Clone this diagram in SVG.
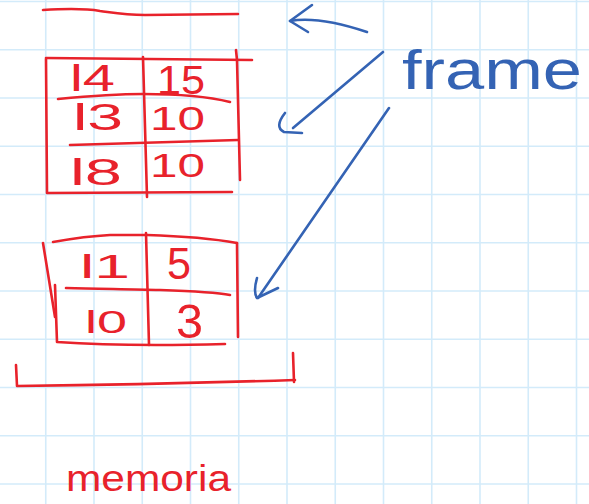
<svg xmlns="http://www.w3.org/2000/svg" width="589" height="504" viewBox="0 0 589 504">
<defs>
<style>
.grid line{stroke:#d3ebfa;stroke-width:1.6}
.r{fill:none;stroke:#e8222b;stroke-width:2.6;stroke-linecap:round;stroke-linejoin:round}
.b{fill:none;stroke:#3463b4;stroke-width:2.6;stroke-linecap:round;stroke-linejoin:round}
.rt{fill:#e8222b;font-family:"Liberation Sans",Arial,sans-serif}
.bt{fill:#3463b4;font-family:"Liberation Sans",Arial,sans-serif}
</style>
</defs>
<rect width="589" height="504" fill="#ffffff"/>
<g class="grid">
<line x1="-2.5" y1="0" x2="-2.5" y2="504"/>
<line x1="45.75" y1="0" x2="45.75" y2="504"/>
<line x1="94" y1="0" x2="94" y2="504"/>
<line x1="142.25" y1="0" x2="142.25" y2="504"/>
<line x1="190.5" y1="0" x2="190.5" y2="504"/>
<line x1="238.75" y1="0" x2="238.75" y2="504"/>
<line x1="287" y1="0" x2="287" y2="504"/>
<line x1="335.25" y1="0" x2="335.25" y2="504"/>
<line x1="383.5" y1="0" x2="383.5" y2="504"/>
<line x1="431.75" y1="0" x2="431.75" y2="504"/>
<line x1="480" y1="0" x2="480" y2="504"/>
<line x1="528.25" y1="0" x2="528.25" y2="504"/>
<line x1="576.5" y1="0" x2="576.5" y2="504"/>
<line x1="0" y1="1.5" x2="589" y2="1.5"/>
<line x1="0" y1="49.75" x2="589" y2="49.75"/>
<line x1="0" y1="98" x2="589" y2="98"/>
<line x1="0" y1="146.25" x2="589" y2="146.25"/>
<line x1="0" y1="194.5" x2="589" y2="194.5"/>
<line x1="0" y1="242.75" x2="589" y2="242.75"/>
<line x1="0" y1="291" x2="589" y2="291"/>
<line x1="0" y1="339.25" x2="589" y2="339.25"/>
<line x1="0" y1="387.5" x2="589" y2="387.5"/>
<line x1="0" y1="435.75" x2="589" y2="435.75"/>
<line x1="0" y1="484" x2="589" y2="484"/>
</g>
<g id="stack-top">
<path class="r" d="M43,10 C60,9 83,8 100,11 C115,13 125,15 145,15 L238,14"/>
</g>
<g id="table1">
<path class="r" d="M46,58 L252,60"/>
<path class="r" d="M46,59 L47,193 L232,192"/>
<path class="r" d="M236,50 L237,60 L240,180"/>
<path class="r" d="M143,57 L147,197"/>
<path class="r" d="M58,99 C90,96 115,94 143,94 C180,94 210,97 230,102"/>
<path class="r" d="M70,145 L238,140"/>
<text class="rt" x="70" y="91" font-size="36" textLength="45" lengthAdjust="spacingAndGlyphs">l4</text>
<text class="rt" x="157" y="94" font-size="40" textLength="48" lengthAdjust="spacingAndGlyphs">15</text>
<text class="rt" x="73" y="130" font-size="36" textLength="50" lengthAdjust="spacingAndGlyphs">l3</text>
<text class="rt" x="150" y="130" font-size="34" textLength="55" lengthAdjust="spacingAndGlyphs">10</text>
<text class="rt" x="70" y="185" font-size="36" textLength="52" lengthAdjust="spacingAndGlyphs">l8</text>
<text class="rt" x="150" y="177" font-size="34" textLength="55" lengthAdjust="spacingAndGlyphs">10</text>
</g>
<g id="table2">
<path class="r" d="M53,242 C70,239 90,236 110,235 L147,235 C180,236 215,239 237,243"/>
<path class="r" d="M43,243 L55,317"/>
<path class="r" d="M55,285 L57,342 C100,345 150,346 225,344"/>
<path class="r" d="M237,243 L238,337"/>
<path class="r" d="M146,233 L149,345"/>
<path class="r" d="M66,288 C100,289 130,289 160,290 C190,291 215,292 230,295"/>
<text class="rt" x="80" y="278" font-size="34" textLength="50" lengthAdjust="spacingAndGlyphs">l1</text>
<text class="rt" x="167" y="279" font-size="44" textLength="24" lengthAdjust="spacingAndGlyphs">5</text>
<text class="rt" x="85" y="333" font-size="32" textLength="42" lengthAdjust="spacingAndGlyphs">l0</text>
<text class="rt" x="176" y="338" font-size="48" textLength="27" lengthAdjust="spacingAndGlyphs">3</text>
</g>
<g id="stack-bottom">
<path class="r" d="M16,365 L17,386 C100,385 200,383 295,380"/>
<path class="r" d="M293,353 L294,382"/>
</g>
<g id="frame-label">
<text class="bt" x="402" y="89" font-size="56" textLength="180" lengthAdjust="spacingAndGlyphs">frame</text>
</g>
<g id="memoria-label">
<text class="rt" x="66" y="491" font-size="36" textLength="165" lengthAdjust="spacingAndGlyphs">memoria</text>
</g>
<g id="connectors">
<path class="b" d="M367,32 C340,23 312,17 290,21"/>
<path class="b" d="M312,5 L290,21 L308,32"/>
<path class="b" d="M383,52 L293,128"/>
<path class="b" d="M285,113 Q274,127 284,132 L302,133"/>
<path class="b" d="M389,108 L258,298"/>
<path class="b" d="M257,278 Q253,292 257,298 L278,288"/>
</g>
</svg>
